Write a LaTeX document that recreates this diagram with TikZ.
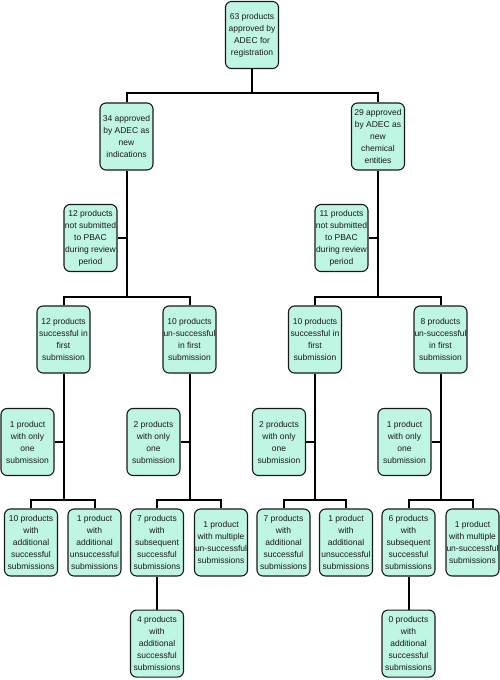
\documentclass[tikz,border=0pt]{standalone}
\usepackage{fontspec}
\setmainfont{Liberation Sans}
\usepackage{xcolor}
\usepackage{tikz}
\usetikzlibrary{positioning}
\definecolor{mint}{HTML}{BFF5E3}

\begin{document}
\begin{tikzpicture}[x=1pt, y=-1pt,
  font=\fontsize{8.5}{12}\selectfont, text=black!90,
  box/.style={draw=black!90, fill=mint, rounded corners=6pt, align=center, inner xsep=0.5pt, inner ysep=1pt, minimum width=53pt, minimum height=67pt, line width=1.1pt},
  link/.style={line width=2pt}]
  \useasboundingbox (0,0) rectangle (500,680);
  % top and the two branches
  \node[box] (all) at (252,35) {63 products\\ approved by\\ ADEC for\\ registration};
  \node[box] (ind) at (126.5,136.5) {34 approved\\ by ADEC as\\ new\\ indications};
  \node[box] (nce) at (378,136.5) {29 approved\\ by ADEC as\\ new\\ chemical\\ entities};
  \node[box] (np1) at (90.5,238) {12 products\\ not submitted\\ to PBAC\\ during review\\ period};
  \node[box] (np2) at (341.5,238) {11 products\\ not submitted\\ to PBAC\\ during review\\ period};
  % first submission
  \node[box] (s1) at (63.5,339.5) {12 products\\ successful in\\ first\\ submission};
  \node[box] (u1) at (189.5,339.5) {10 products\\ un-successful\\ in first\\ submission};
  \node[box] (s2) at (315,339.5) {10 products\\ successful in\\ first\\ submission};
  \node[box] (u2) at (440.5,339.5) {8 products\\ un-successful\\ in first\\ submission};
  \node[box] (one1) at (27.5,442) {1 product\\ with only\\ one\\ submission};
  \node[box] (one2) at (153.5,442) {2 products\\ with only\\ one\\ submission};
  \node[box] (one3) at (279,442) {2 products\\ with only\\ one\\ submission};
  \node[box] (one4) at (404.5,442) {1 product\\ with only\\ one\\ submission};
  % later submissions
  \node[box] (addS1) at (31,542.5) {10 products\\ with\\ additional\\ successful\\ submissions};
  \node[box] (addU1) at (94.5,542.5) {1 product\\ with\\ additional\\ unsuccessful\\ submissions};
  \node[box] (sub1) at (157,542.5) {7 products\\ with\\ subsequent\\ successful\\ submissions};
  \node[box] (mult1) at (221,542.5) {1 product\\ with multiple\\ un-successful\\ submissions};
  \node[box] (addS2) at (283.5,542.5) {7 products\\ with\\ additional\\ successful\\ submissions};
  \node[box] (addU2) at (346,542.5) {1 product\\ with\\ additional\\ unsuccessful\\ submissions};
  \node[box] (sub2) at (408.5,542.5) {6 products\\ with\\ subsequent\\ successful\\ submissions};
  \node[box] (mult2) at (472.5,542.5) {1 product\\ with multiple\\ un-successful\\ submissions};
  \node[box, below=33pt of sub1] (more1) {4 products\\ with\\ additional\\ successful\\ submissions};
  \node[box, below=33pt of sub2] (more2) {0 products\\ with\\ additional\\ successful\\ submissions};
  % bus points
  \coordinate (bus0) at (252,93);
  \coordinate (bus1) at (126.5,297);
  \coordinate (bus2) at (378,297);
  \coordinate (bus3) at (63.5,500);
  \coordinate (bus4) at (189.5,500);
  \coordinate (bus5) at (315,500);
  \coordinate (bus6) at (440.5,500);
  % connectors
  \draw[link] (all) -- (bus0);
  \draw[link] (ind.north) |- (bus0) -| (nce.north);
  \draw[link] (ind) -- (bus1);
  \draw[link] (nce) -- (bus2);
  \draw[link] (np1.east) -- (np1.east -| ind.south);
  \draw[link] (np2.east) -- (np2.east -| nce.south);
  \draw[link] (s1.north) |- (bus1) -| (u1.north);
  \draw[link] (s2.north) |- (bus2) -| (u2.north);
  \draw[link] (s1) -- (bus3);
  \draw[link] (u1) -- (bus4);
  \draw[link] (s2) -- (bus5);
  \draw[link] (u2) -- (bus6);
  \draw[link] (one1.east) -- (one1.east -| s1.south);
  \draw[link] (one2.east) -- (one2.east -| u1.south);
  \draw[link] (one3.east) -- (one3.east -| s2.south);
  \draw[link] (one4.east) -- (one4.east -| u2.south);
  \draw[link] (addS1.north) |- (bus3) -| (addU1.north);
  \draw[link] (sub1.north) |- (bus4) -| (mult1.north);
  \draw[link] (addS2.north) |- (bus5) -| (addU2.north);
  \draw[link] (sub2.north) |- (bus6) -| (mult2.north);
  \draw[link] (sub1) -- (more1);
  \draw[link] (sub2) -- (more2);
\end{tikzpicture}
\end{document}
